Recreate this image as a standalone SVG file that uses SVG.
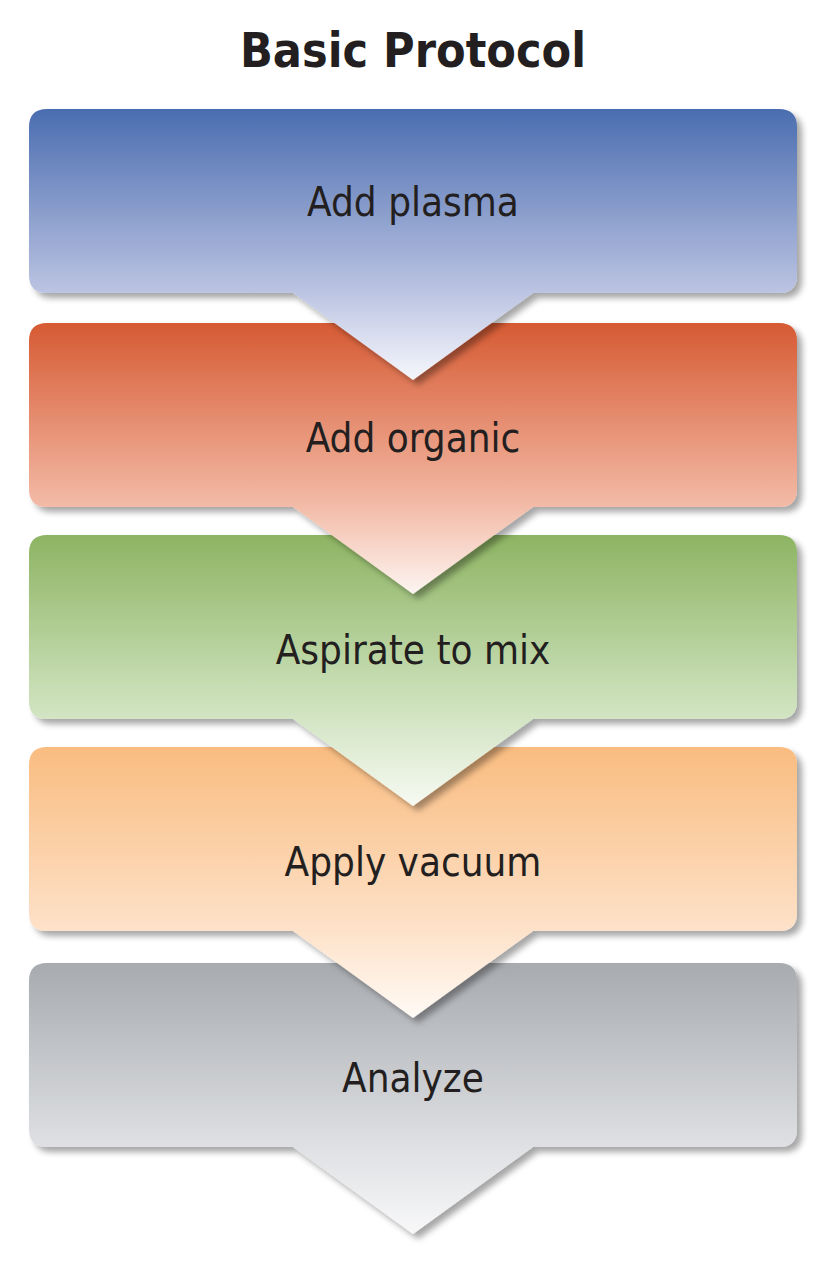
<svg xmlns="http://www.w3.org/2000/svg" width="833" height="1280" viewBox="0 0 833 1280">
<defs>
<filter id="sh" x="-5%" y="-5%" width="115%" height="115%"><feDropShadow dx="5" dy="5" stdDeviation="3" flood-color="#000" flood-opacity="0.35"/></filter>
<linearGradient id="g1" x1="0" y1="0" x2="0" y2="1"><stop offset="0" stop-color="#4a6db0"/><stop offset="0.65" stop-color="#b7c0e0"/><stop offset="1" stop-color="#f6f7fc"/></linearGradient>
<linearGradient id="g2" x1="0" y1="0" x2="0" y2="1"><stop offset="0" stop-color="#d65a33"/><stop offset="0.65" stop-color="#f2b7a2"/><stop offset="1" stop-color="#fdf5f2"/></linearGradient>
<linearGradient id="g3" x1="0" y1="0" x2="0" y2="1"><stop offset="0" stop-color="#8db462"/><stop offset="0.65" stop-color="#d0e3c0"/><stop offset="1" stop-color="#f7faf3"/></linearGradient>
<linearGradient id="g4" x1="0" y1="0" x2="0" y2="1"><stop offset="0" stop-color="#f9bc80"/><stop offset="0.65" stop-color="#fde0c6"/><stop offset="1" stop-color="#fffaf5"/></linearGradient>
<linearGradient id="g5" x1="0" y1="0" x2="0" y2="1"><stop offset="0" stop-color="#a7aaaf"/><stop offset="0.65" stop-color="#dcdee1"/><stop offset="1" stop-color="#f8f8f9"/></linearGradient>
<path id="shape" d="M47 0 H779 Q797 0 797 18 V166 Q797 184 779 184 H533 L413 271 L293 184 H47 Q29 184 29 166 V18 Q29 0 47 0 Z"/>
</defs>
<style>
text{font-family:"DejaVu Sans Condensed","Liberation Sans Narrow","Noto Sans",sans-serif;fill:#231f20;text-anchor:middle}
.lbl{font-size:40px}
.title{font-size:48px;font-weight:bold}
</style>
<rect width="833" height="1280" fill="#fff"/>
<text class="title" x="413" y="67">Basic Protocol</text>
<g id="n5"><use href="#shape" y="963" fill="url(#g5)" filter="url(#sh)"/><text class="lbl" x="413" y="1092">Analyze</text></g>
<g id="n4"><use href="#shape" y="747" fill="url(#g4)" filter="url(#sh)"/><text class="lbl" x="413" y="876">Apply vacuum</text></g>
<g id="n3"><use href="#shape" y="535" fill="url(#g3)" filter="url(#sh)"/><text class="lbl" x="413" y="664">Aspirate to mix</text></g>
<g id="n2"><use href="#shape" y="323" fill="url(#g2)" filter="url(#sh)"/><text class="lbl" x="413" y="452">Add organic</text></g>
<g id="n1"><use href="#shape" y="109" fill="url(#g1)" filter="url(#sh)"/><text class="lbl" x="413" y="216">Add plasma</text></g>
<g id="connectors"/>
</svg>
